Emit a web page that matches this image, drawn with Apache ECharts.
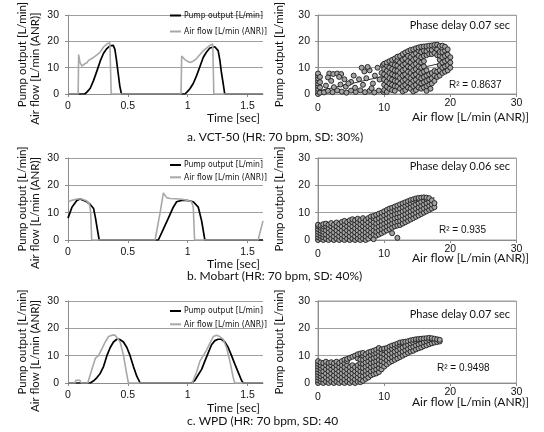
<!DOCTYPE html>
<html>
<head>
<meta charset="utf-8">
<script src="https://cdn.jsdelivr.net/npm/echarts/dist/echarts.min.js"></script>
<style>
html, body { margin: 0; padding: 0; background: #fff; }
#chart { width: 544px; height: 432px; }
</style>
</head>
<body>
<div id="chart"></div>
<script>
// time series [sec, L/min]
var pumpA = [[0,0],[0.14,0],[0.16,0.8],[0.186,2.2],[0.214,5.2],[0.242,8.8],[0.269,12.5],[0.297,15.5],[0.325,17.3],[0.35,18.3],[0.378,18.5],[0.392,17],[0.405,13],[0.419,8],[0.433,3],[0.447,0],
  [0.978,0],[1.0,1],[1.019,2],[1.047,4],[1.075,7],[1.103,10.5],[1.131,14],[1.158,16],[1.186,17.5],[1.227,18],[1.255,16.5],[1.269,13],[1.283,8],[1.297,4],[1.31,0],[1.63,0]];
var airA = [[0,0],[0.085,0],[0.089,15],[0.1,12],[0.117,10.6],[0.14,11.5],[0.158,11.9],[0.172,12.8],[0.186,12.6],[0.2,13.5],[0.214,13.7],[0.242,14.9],[0.269,16],[0.297,17.9],[0.325,19],[0.35,19.5],[0.357,19.5],[0.361,0],
  [0.945,0],[0.95,14.5],[0.978,13],[1.019,12],[1.047,12.5],[1.075,13.5],[1.103,15],[1.131,16.5],[1.158,17.5],[1.186,18.5],[1.21,19],[1.215,19],[1.219,0],[1.63,0]];
var pumpB = [[0,8],[0.033,12],[0.075,14.5],[0.1,15],[0.116,14.8],[0.158,14],[0.186,13],[0.214,11.5],[0.23,8],[0.245,4],[0.261,0],
  [0.755,0],[0.797,4],[0.839,8],[0.88,12],[0.908,14],[0.95,14.5],[0.992,14.5],[1.047,14],[1.089,12],[1.117,7],[1.144,0],[1.63,0]];
var airB = [[0,14],[0.033,14.5],[0.075,15],[0.116,15],[0.158,14.3],[0.18,13],[0.19,10],[0.198,0],
  [0.728,0],[0.77,10],[0.797,17.2],[0.825,15.5],[0.853,15.2],[0.936,15],[0.992,14.6],[1.033,14],[1.047,12],[1.058,0],[1.589,0],[1.63,7]];
var pumpC = [[0,0],[0.186,0],[0.214,0.8],[0.242,2],[0.269,3.5],[0.297,6],[0.325,10],[0.353,13],[0.38,15],[0.408,16],[0.43,16],[0.464,15],[0.492,13],[0.519,10],[0.547,6],[0.575,2.5],[0.603,0],
  [1.033,0],[1.061,1],[1.089,3],[1.117,5],[1.144,8],[1.172,11],[1.2,14],[1.228,15.5],[1.255,16],[1.283,16],[1.311,15],[1.339,13],[1.367,10],[1.394,7],[1.422,4],[1.45,1],[1.464,0],[1.63,0]];
var airC = [[0,0],[0.06,0],[0.065,1],[0.08,0.5],[0.1,1],[0.11,0],[0.165,0],[0.172,1],[0.186,3],[0.2,5],[0.228,9],[0.255,10],[0.283,12.5],[0.311,15],[0.339,17],[0.367,17.5],[0.394,17.5],[0.408,17],[0.436,15],[0.464,10],[0.492,3],[0.505,0],
  [1.04,0],[1.047,1],[1.075,4],[1.103,8],[1.131,10],[1.158,12],[1.186,14.5],[1.214,17],[1.242,17.5],[1.269,17],[1.297,16],[1.325,13],[1.353,8],[1.381,2],[1.394,0],[1.63,0]];

// scatter [air flow, pump output]
var scatterA = [[0,0],[0,1],[0,2],[0,3],[0,4],[0,5],[0,6],[0,7],[0,7.8],[0.3,0.5],[0.3,2.5],[0.3,4.5],[0.3,6.5],
  [0.9,0.6],[1.5,1.2],[2.2,0.7],[2.9,1.4],[3.6,0.9],[4.3,0.5],[5,1.3],[5.7,0.8],[6.4,1.4],[7.1,0.7],[7.8,1.2],[8.5,0.6],[9.2,1.3],[9.9,0.8],
  [1.7,7.8],[2.3,7.6],[2.9,7.8],[3.5,7.6],[1.5,6.3],[3.2,6.5],
  [1.2,3.2],[2.4,2.6],[3.4,3.6],[4.2,2.8],[5,4.6],[5.6,2.4],[6.2,5.6],[4,5.6],[2,5],[6.8,3.5],[7.3,6],[7,8.6],[7.8,9],[8.3,4],[8.6,7],[9,10],[9.3,5.5],[9.6,8],[8.1,2.2],[6.6,10],[7.5,10.3],[5.4,7],[4.6,4],[9.8,11],
  [10,1.5],[10,3.5],[10,5.5],[10,7.5],[10,9.5],[10,11.5],
  [10.4,0.8],[10.4,2.8],[10.4,4.8],[10.4,6.8],[10.4,8.8],[10.4,10.8],[10.4,12],
  [10.8,2],[10.8,4],[10.8,6],[10.8,8],[10.8,10],[10.8,12.5],
  [11.2,1.5],[11.2,3.5],[11.2,5.5],[11.2,7.5],[11.2,9.5],[11.2,11.5],[11.2,13],
  [11.6,1.2],[11.6,3],[11.6,5],[11.6,7],[11.6,9],[11.6,11],[11.6,13.5],
  [12,2.8],[12,4.8],[12,6.8],[12,8.8],[12,10.8],[12,12.8],[12,14.2],
  [12.4,2],[12.4,4],[12.4,6],[12.4,8],[12.4,10],[12.4,12],[12.4,14.5],
  [12.8,1],[12.8,3],[12.8,5],[12.8,7],[12.8,9],[12.8,11],[12.8,13],[12.8,15.2],
  [13.2,1.5],[13.2,3.5],[13.2,5.5],[13.2,7.5],[13.2,9.5],[13.2,11.5],[13.2,13.5],[13.2,15.8],
  [13.6,2.5],[13.6,4.5],[13.6,6.5],[13.6,8.5],[13.6,10.5],[13.6,12.5],[13.6,14.5],[13.6,16.3],
  [14,2],[14,4],[14,6],[14,8],[14,10],[14,12],[14,14],[14,16.8],
  [14.4,1],[14.4,3],[14.4,5],[14.4,7],[14.4,9],[14.4,11],[14.4,13],[14.4,15],[14.4,17],
  [14.8,1.5],[14.8,3.5],[14.8,5.5],[14.8,7.5],[14.8,9.5],[14.8,11.5],[14.8,13.5],[14.8,15.5],[14.8,17.4],
  [15.2,2.5],[15.2,4.5],[15.2,6.5],[15.2,8.5],[15.2,10.5],[15.2,12.5],[15.2,14.5],[15.2,16.5],[15.2,17.7],
  [15.6,2],[15.6,4],[15.6,6],[15.6,8],[15.6,10],[15.6,12],[15.6,14],[15.6,16],[15.6,18],
  [16,2.5],[16,4.5],[16,6.5],[16,8.5],[16,10.5],[16,12.5],[16,14.5],[16,16.5],[16,18.1],
  [16.4,1.2],[16.4,3],[16.4,5],[16.4,7],[16.4,9],[16.4,14.8],[16.4,16.3],[16.4,18.2],
  [16.8,3.5],[16.8,5.5],[16.8,7.5],[16.8,15.2],[16.8,17],[16.8,18.4],[17,2],
  [17.2,4],[17.2,6],[17.2,8],[17.2,15.2],[17.2,16.8],[17.2,18.5],
  [17.6,5],[17.6,7],[17.6,8.8],[17.6,15.6],[17.6,17.8],[17.6,18.7],
  [18,6.5],[18,8.5],[18,14.8],[18,17],[18,18.8],
  [18.4,7],[18.4,9],[18.4,11],[18.4,13],[18.4,14.6],[18.4,16],[18.4,18.3],
  [18.8,8],[18.8,10],[18.8,12],[18.8,14],[18.8,16],[18.8,18.4],
  [19.2,8.5],[19.2,10.5],[19.2,12.5],[19.2,14.5],[19.2,16.5],[19.2,18],
  [19.6,9],[19.6,11],[19.6,13],[19.6,15],[19.6,17],
  [20,10],[20,12],[20,14]];
var scatterB = [[0,0],[0,1],[0,2],[0,3],[0,4],[0,5],[0,5.6],
  [0.4,0.5],[0.4,1.5],[0.4,2.5],[0.4,3.5],[0.4,4.5],[0.4,5.3],
  [0.8,0],[0.8,1],[0.8,2],[0.8,3],[0.8,4],[0.8,5],[0.8,5.8],
  [1.2,0.5],[1.2,2],[1.2,3.5],[1.2,5],[1.2,6],[1.6,0],[1.6,1.3],[1.6,2.8],[1.6,4.3],[1.6,5.6],
  [2,0.5],[2,2],[2,3.5],[2,5],[2,6.2],[2.4,0],[2.4,1.3],[2.4,2.8],[2.4,4.3],[2.4,5.6],
  [2.8,0.5],[2.8,2],[2.8,3.5],[2.8,5],[2.8,6.4],[3.2,0],[3.2,1.3],[3.2,2.8],[3.2,4.3],[3.2,5.8],
  [3.6,0.5],[3.6,2],[3.6,3.5],[3.6,5],[3.6,6.6],[4,0],[4,1.3],[4,2.8],[4,4.3],[4,5.8],[4,7],
  [4.4,0.5],[4.4,2],[4.4,3.5],[4.4,5],[4.4,6.5],[4.8,0],[4.8,1.3],[4.8,2.8],[4.8,4.3],[4.8,5.8],[4.8,7.2],
  [5.2,0.5],[5.2,2],[5.2,3.5],[5.2,5],[5.2,6.5],[5.2,7.6],[5.6,0],[5.6,1.3],[5.6,2.8],[5.6,4.3],[5.6,5.8],[5.6,7.2],
  [6,0.5],[6,2],[6,3.5],[6,5],[6,6.5],[6,7.8],[6.4,0],[6.4,1.3],[6.4,2.8],[6.4,4.3],[6.4,5.8],[6.4,7.3],
  [6.8,0.5],[6.8,2],[6.8,3.5],[6.8,5],[6.8,6.5],[6.8,8],[7.2,0],[7.2,1.3],[7.2,2.8],[7.2,4.3],[7.2,5.8],[7.2,7.3],
  [7.6,0.5],[7.6,2],[7.6,3.5],[7.6,5],[7.6,6.5],[7.6,8],[8,1.3],[8,2.8],[8,4.3],[8,5.8],[8,7.3],[8,8.6],
  [8.4,0.3],[8.4,2],[8.4,3.5],[8.4,5],[8.4,6.5],[8.4,8],[8.4,8.8],[8.8,1.6],[8.8,3],[8.8,4.5],[8.8,6],[8.8,7.5],[8.8,9.2],
  [9.2,2],[9.2,3.5],[9.2,5],[9.2,6.5],[9.2,8],[9.2,9.6],[9.6,2.5],[9.6,4],[9.6,5.5],[9.6,7],[9.6,8.5],[9.6,10],
  [10,3],[10,4.5],[10,6],[10,7.5],[10,9],[10,10.5],[10.4,3.5],[10.4,5],[10.4,6.5],[10.4,8],[10.4,9.5],[10.4,11],
  [10.8,4],[10.8,5.5],[10.8,7],[10.8,8.5],[10.8,10],[10.8,11.5],[11.2,2.5],[11.2,4.5],[11.2,6],[11.2,7.5],[11.2,9],[11.2,10.5],[11.2,11.8],
  [11.6,5],[11.6,6.5],[11.6,8],[11.6,9.5],[11.6,11],[11.6,12.2],[12,0.8],[12,5.3],[12,6.8],[12,8.3],[12,9.8],[12,11.3],[12,12.6],
  [12.4,5.5],[12.4,7],[12.4,8.5],[12.4,10],[12.4,11.5],[12.4,13],[12.8,6],[12.8,7.5],[12.8,9],[12.8,10.5],[12.8,12],[12.8,13.4],
  [13.2,6.5],[13.2,8],[13.2,9.5],[13.2,11],[13.2,12.5],[13.2,13.8],[13.6,7],[13.6,8.5],[13.6,10],[13.6,11.5],[13.6,13],[13.6,14.2],
  [14,7.5],[14,9],[14,10.5],[14,12],[14,13.5],[14,14.6],[14.4,8],[14.4,9.5],[14.4,11],[14.4,12.5],[14.4,14],[14.4,14.9],
  [14.8,8.5],[14.8,10],[14.8,11.5],[14.8,13],[14.8,14.5],[14.8,15.2],[15.2,9],[15.2,10.5],[15.2,12],[15.2,13.5],[15.2,15],[15.2,15.4],
  [15.6,9.5],[15.6,11],[15.6,12.5],[15.6,14],[15.6,15.5],[16,10],[16,11.5],[16,13],[16,14.5],[16,15.6],
  [16.4,10.5],[16.4,12],[16.4,13.5],[16.4,15],[16.4,15.5],[16.8,11],[16.8,12.5],[16.8,14],[16.8,15.3],
  [17.2,11.5],[17.2,13],[17.2,14.5],[17.6,12],[17.6,13.5]];
var scatterC = [[0,0],[0,1],[0,2],[0,3],[0,4],[0,5],[0,6],[0,7],[0,8],
  [0.4,0.5],[0.4,1.5],[0.4,2.5],[0.4,3.5],[0.4,4.5],[0.4,5.5],[0.4,6.5],[0.4,7.5],
  [0.8,0],[0.8,1.3],[0.8,2.8],[0.8,4.3],[0.8,5.8],[0.8,7.3],[1.2,0.5],[1.2,2],[1.2,3.5],[1.2,5],[1.2,6.5],[1.2,7.8],
  [1.6,0],[1.6,1.3],[1.6,2.8],[1.6,4.3],[1.6,5.8],[1.6,7.3],[2,0.5],[2,2],[2,3.5],[2,5],[2,6.5],[2,7.6],
  [2.4,0],[2.4,1.3],[2.4,2.8],[2.4,4.3],[2.4,5.8],[2.4,7.2],[2.8,0.5],[2.8,2],[2.8,3.5],[2.8,5],[2.8,6.5],[2.8,7.8],
  [3.2,0],[3.2,1.3],[3.2,2.8],[3.2,4.3],[3.2,5.8],[3.2,7.3],[3.6,0.5],[3.6,2],[3.6,3.5],[3.6,5],[3.6,6.5],[3.6,8],
  [4,0],[4,1.3],[4,2.8],[4,4.3],[4,5.8],[4,7.3],[4,8.5],[4.4,0.5],[4.4,2],[4.4,3.5],[4.4,5],[4.4,6.5],[4.4,8],[4.4,8.8],
  [4.8,0],[4.8,1.3],[4.8,2.8],[4.8,4.3],[4.8,5.8],[4.8,9.2],[5.2,0.5],[5.2,2],[5.2,3.5],[5.2,5],[5.2,6.5],[5.2,9.6],
  [5.6,0],[5.6,1.3],[5.6,2.8],[5.6,4.3],[5.6,5.8],[5.6,10],[6,0.5],[6,2],[6,3.5],[6,5],[6,6.5],[6,9],[6,10.5],
  [6.4,0.3],[6.4,1.3],[6.4,2.8],[6.4,4.3],[6.4,5.8],[6.4,7.3],[6.4,8.6],[6.4,10.8],
  [6.8,0.8],[6.8,2.5],[6.8,4],[6.8,5.5],[6.8,7],[6.8,8.5],[6.8,10],[6.8,11],
  [7.2,1.5],[7.2,3],[7.2,4.5],[7.2,6],[7.2,7.5],[7.2,9],[7.2,10.5],[7.6,2],[7.6,3.5],[7.6,5],[7.6,6.5],[7.6,8],[7.6,9.5],[7.6,11.2],
  [8,2.8],[8,4.3],[8,5.8],[8,7.3],[8,8.8],[8,10.3],[8,11.5],[8.4,3.2],[8.4,4.7],[8.4,6.2],[8.4,7.7],[8.4,9.2],[8.4,10.7],[8.4,11.8],
  [8.8,3.5],[8.8,5],[8.8,6.5],[8.8,8],[8.8,9.5],[8.8,11],[8.8,12.2],[9.2,4],[9.2,5.5],[9.2,7],[9.2,8.5],[9.2,10],[9.2,11.5],[9.2,12.8],
  [9.6,5],[9.6,6.5],[9.6,8],[9.6,9.5],[9.6,11],[9.6,12.3],[10,6],[10,7.5],[10,9],[10,10.5],[10,12],[10,12.6],
  [10.4,6.8],[10.4,8.3],[10.4,9.8],[10.4,11.3],[10.4,12.8],[10.8,7.5],[10.8,9],[10.8,10.5],[10.8,12],[10.8,13.3],
  [11.2,8],[11.2,9.5],[11.2,11],[11.2,12.5],[11.2,13.7],[11.6,8.5],[11.6,10],[11.6,11.5],[11.6,13],[11.6,14],
  [12,9],[12,10.5],[12,12],[12,13.5],[12,14.4],[12.4,9.5],[12.4,11],[12.4,12.5],[12.4,14],[12.4,14.8],
  [12.8,10],[12.8,11.5],[12.8,13],[12.8,14.5],[12.8,15],[13.2,10.5],[13.2,12],[13.2,13.5],[13.2,15.1],
  [13.6,11],[13.6,12.5],[13.6,14],[13.6,15.3],[14,11.5],[14,13],[14,14.5],[14,15.6],
  [14.4,11.8],[14.4,13.3],[14.4,14.8],[14.4,15.8],[14.8,12.3],[14.8,13.8],[14.8,15.3],[14.8,16],
  [15.2,12.7],[15.2,14.2],[15.2,15.7],[15.2,16.1],[15.6,13],[15.6,14.5],[15.6,16],[15.6,16.2],
  [16,13.5],[16,15],[16,16.3],[16.4,13.8],[16.4,15.3],[16.4,16.4],[16.8,14.2],[16.8,15.7],[16.8,16.5],
  [17.2,14.5],[17.2,16],[17.2,16.4],[17.6,14.8],[17.6,16.2],[18,15],[18,16],[18.4,15.2],[18.4,15.8]];

// linear trend lines (end points)
var trendA = [[0,1.1],[20,12.5]];
var trendB = [[0,1.2],[17.6,15.5]];
var trendC = [[0,1.5],[18.4,16.5]];

var pumpName = 'Pump output [L/min]';
var airName = 'Air flow [L/min (ANR)]';
var captions = ['a. VCT-50 (HR: 70 bpm, SD: 30%)', 'b. Mobart (HR: 70 bpm, SD: 40%)', 'c. WPD (HR: 70 bpm, SD: 40'];
var phaseDelays = ['Phase delay 0.07 sec', 'Phase delay 0.06 sec', 'Phase delay 0.07 sec'];
var r2Values = ['R² = 0.8637', 'R² = 0.935', 'R² = 0.9498'];

var chart = echarts.init(document.getElementById('chart'));

var gridTops = [12, 158, 301];
var gridH = 82;
var lineRows = [[pumpA, airA], [pumpB, airB], [pumpC, airC]];
var scatterRows = [scatterA, scatterB, scatterC];
var trendRows = [trendA, trendB, trendC];
var legendTops = [10.5, 160, 306];
var legendGaps = [6, 2.3, 3.3];
var captionY = [137, 276, 421.5];
var xNameY = [118.5, 264.5, 408];
var airNameY = [117, 258, 402];
var phaseY = [25, 166, 314];
var r2Pos = [[449, 85], [439, 230], [437, 368]];

var gridColor = '#a0a0a0';
var tickFont = 'Liberation Sans';
var textFont = 'Lato';
var nameStyle = { fontFamily: textFont, fontSize: 11.5, color: '#111' };

var grids = [], xAxes = [], yAxes = [], series = [], legends = [], graphics = [];

function valueYAxis(gi, margin, name, gap) {
  return {
    type: 'value', gridIndex: gi, min: 0, max: 30, interval: 10, position: 'left',
    name: name, nameLocation: 'middle', nameGap: gap, nameRotate: 90, nameTextStyle: nameStyle,
    axisLine: { show: true, lineStyle: { color: '#8c8c8c' } },
    axisTick: { show: true, length: 3, lineStyle: { color: '#8c8c8c' } },
    splitLine: { show: true, lineStyle: { color: gridColor, width: 1 } },
    axisLabel: { color: '#111', fontFamily: tickFont, fontSize: 10.5, margin: margin }
  };
}

for (var r = 0; r < 3; r++) {
  var gl = r * 2, gr = r * 2 + 1;
  var yl = r * 3, yr = r * 3 + 1;
  grids.push({ left: 68, top: gridTops[r], width: 195, height: gridH });
  grids.push({ left: 318, top: gridTops[r], width: 198.5, height: gridH, show: true, borderColor: gridColor, borderWidth: 1, backgroundColor: 'transparent' });

  xAxes.push({
    type: 'value', gridIndex: gl, min: 0, max: 1.63, interval: 0.5,
    axisLine: { lineStyle: { color: '#8c8c8c' } },
    axisTick: { show: true, length: 3, lineStyle: { color: '#8c8c8c' } },
    splitLine: { show: false },
    axisLabel: { color: '#111', fontFamily: tickFont, fontSize: 10.5, margin: 7, showMaxLabel: false }
  });
  xAxes.push({
    type: 'value', gridIndex: gr, min: 0, max: 30, interval: 10,
    axisLine: { lineStyle: { color: '#8c8c8c' } },
    axisTick: { show: true, length: 3, lineStyle: { color: '#8c8c8c' } },
    splitLine: { show: false },
    axisLabel: {
      color: '#111', fontFamily: tickFont, fontSize: 10.5, margin: 4,
      formatter: function (v) { return v >= 20 ? '{up|' + v + '}' : '{dn|' + v + '}'; },
      rich: {
        up: { fontFamily: tickFont, fontSize: 10.5, color: '#111' },
        dn: { fontFamily: tickFont, fontSize: 10.5, color: '#111', padding: [5, 0, 0, 0] }
      }
    }
  });
  yAxes.push(valueYAxis(gl, 9, pumpName, 40));
  yAxes.push(valueYAxis(gr, 8, pumpName, 33));
  // second title line of the left panel (air flow), shifted toward the bottom
  yAxes.push({
    type: 'value', gridIndex: gl, min: 0, max: 30, position: 'left',
    name: airName, nameLocation: 'middle', nameGap: 27, nameRotate: 90,
    nameTextStyle: { fontFamily: textFont, fontSize: 11.5, color: '#111', padding: [0, 28, 0, 0] },
    axisLine: { show: false }, axisTick: { show: false }, axisLabel: { show: false }, splitLine: { show: false }
  });

  series.push({
    name: pumpName, type: 'line', xAxisIndex: gl, yAxisIndex: yl, data: lineRows[r][0],
    showSymbol: false, color: '#000', lineStyle: { color: '#000', width: 1.7 }
  });
  series.push({
    name: airName, type: 'line', xAxisIndex: gl, yAxisIndex: yl, data: lineRows[r][1],
    showSymbol: false, color: '#a8a8a8', lineStyle: { color: '#a8a8a8', width: 1.6 }
  });
  series.push({
    type: 'line', xAxisIndex: gr, yAxisIndex: yr, data: trendRows[r],
    showSymbol: false, lineStyle: { color: '#000', width: 0.8 }, z: 1
  });
  series.push({
    type: 'scatter', xAxisIndex: gr, yAxisIndex: yr, data: scatterRows[r],
    symbol: 'circle', symbolSize: 5,
    itemStyle: { color: '#a4a4a4', borderColor: '#1c1c1c', borderWidth: 0.9, opacity: 1 }, z: 2
  });

  legends.push({
    data: [pumpName, airName], orient: 'vertical', left: 170, top: legendTops[r],
    icon: 'rect', itemWidth: 11, itemHeight: 2, itemGap: legendGaps[r], padding: 0,
    selectedMode: false,
    textStyle: { fontFamily: 'Liberation Sans Narrow, DejaVu Sans Condensed, Liberation Sans', fontSize: 8.5, lineHeight: 10, color: '#111', padding: [0, 0, 0, -2] }
  });

  // x-axis titles
  graphics.push({ type: 'text', x: 260, y: xNameY[r],
    style: { text: 'Time [sec]', fontFamily: textFont, fontSize: 12, fill: '#111', align: 'right', verticalAlign: 'middle' } });
  graphics.push({ type: 'text', x: 529, y: airNameY[r],
    style: { text: airName, fontFamily: textFont, fontSize: 12, fill: '#111', align: 'right', verticalAlign: 'middle' } });
  // caption
  graphics.push({ type: 'text', x: 187, y: captionY[r],
    style: { text: captions[r], fontFamily: textFont, fontSize: 12, fill: '#111', align: 'left', verticalAlign: 'middle' } });
  // annotations
  graphics.push({ type: 'text', x: 510, y: phaseY[r],
    style: { text: phaseDelays[r], fontFamily: textFont, fontSize: 11, fill: '#111', align: 'right', verticalAlign: 'middle' } });
  graphics.push({ type: 'text', x: r2Pos[r][0], y: r2Pos[r][1],
    style: { text: r2Values[r], fontFamily: tickFont, fontSize: 10, fill: '#111', align: 'left', verticalAlign: 'middle' } });
}

chart.setOption({
  animation: false,
  backgroundColor: '#fff',
  grid: grids,
  xAxis: xAxes,
  yAxis: yAxes,
  legend: legends,
  series: series,
  graphic: graphics
});
</script>
</body>
</html>
